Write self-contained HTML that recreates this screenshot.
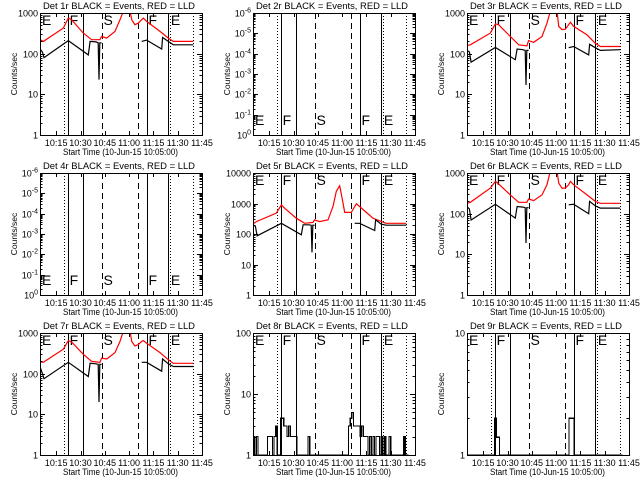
<!DOCTYPE html>
<html><head><meta charset="utf-8"><style>
html,body{margin:0;padding:0;background:#fff;}
svg{display:block;font-family:"Liberation Sans",sans-serif;}
</style></head><body>
<svg id="chart" width="640" height="480" viewBox="0 0 640 480" xmlns="http://www.w3.org/2000/svg" shape-rendering="crispEdges"></svg>
<script>
// ---- data ----
const xTickLabels = ["10:15","10:30","10:45","11:00","11:15","11:30","11:45"];
const xTickMinutes = [10,25,40,55,70,85,100];
const dottedMinutes = [14.8, 80.2, 94.6];
const solidMinutes = [17.5, 26.7, 66.2, 79.2];
const dashedMinutes = [38.5, 60.7];
const regionLetters = ["E","F","S","F","E"];
const regionMinutes = [1.2, 18.3, 39.2, 67.0, 80.8];

const blackT = [0,1.5,2.5,17.5,29.8,30.9,34.5,35.9,36.4,36.9,38,50,62.8,65.8,75.1,75.7,79.2,82.3,94.6];
const black1 = [130,110,80,210,93,200,195,185,23,185,185,null,200,215,130,250,200,165,165];
const black3 = [120,110,62,142,71,130,125,120,17,120,120,null,140,150,93,170,140,120,125];
const black5 = [200,180,87,225,94,200,200,195,25,195,195,null,225,225,130,290,210,195,195];
const black6 = [150,130,70,170,78,150,145,140,19,140,140,null,165,170,100,200,155,137,137];
const black7 = [150,100,75,190,85,180,175,170,20,170,170,null,190,190,115,230,175,150,150];

const redT = [0,2.1,14.4,17.5,19.5,26.7,31.9,37,38,41.2,46.3,49.4,51.4,53.5,55.6,56.6,58.6,60.7,62.8,63.8,65.8,74.1,79.2,82.3,94.6];
const red1 = [220,200,425,750,684,321,220,220,265,241,352,684,1100,3000,1100,684,515,566,684,750,620,352,241,200,200];
const red3 = [160,165,320,540,515,265,165,155,210,190,265,566,1100,3000,1100,470,390,400,515,590,470,290,180,150,150];
const red5 = [215,255,480,900,700,330,225,240,290,255,290,800,2500,3800,1000,510,510,510,800,980,800,330,255,225,225];
const red6 = [180,190,425,620,540,290,190,190,230,210,290,515,1100,3000,1100,566,425,425,515,620,515,290,200,180,180];
const red7 = [195,190,400,650,600,300,200,190,240,230,330,620,1100,3000,1100,620,480,520,620,650,560,330,220,180,180];

// per-minute step counts (minute 0..95)
const counts8 = [2,1,2,1,1,1,1,1,1,2,2,2,1,2,3,1,1,4,4,3,3,2,3,2,2,2,2,1,1,1,1,1,1,1,2,1,1,1,1,1,1,1,1,1,1,1,1,1,1,1,1,1,1,1,1,1,1,1,1,3,4,5,3,3,3,3,2,3,2,2,2,1,2,1,2,1,2,2,1,2,1,2,1,1,2,1,1,1,1,1,1,1,1,2,1,1];
const counts9 = [1,1,1,1,1,1,1,1,1,1,1,1,1,1,1,1,1,2,1.4,1.4,1,1,1,1,1,1,1,1,1,1,1,1,1,1,1,1,1,1,1,1,1,1,1,1,1,1,1,1,1,1,1,1,1,1,1,1,1,1,1,1,1,1,1,2,2,2,1,1,1,1,1,1,1,1,1,1,1,1,1,1,1,1,1,1,1,1,1,1,1,1,1,1,1,1,1,1];

const panels = [
 {det:"1r", lo:0, hi:3, black:black1, red:red1, lab:"top"},
 {det:"2r", lo:0, hi:6, exp:true, lab:"bottom"},
 {det:"3r", lo:0, hi:3, black:black3, red:red3, lab:"top"},
 {det:"4r", lo:0, hi:6, exp:true, lab:"bottom"},
 {det:"5r", lo:0, hi:4, black:black5, red:red5, lab:"top"},
 {det:"6r", lo:0, hi:3, black:black6, red:red6, lab:"top"},
 {det:"7r", lo:0, hi:3, black:black7, red:red7, lab:"top"},
 {det:"8r", lo:0, hi:2, step:counts8, lab:"top"},
 {det:"9r", lo:0, hi:1, step:counts9, lab:"top"}
];

const NS="http://www.w3.org/2000/svg";
const svg=document.getElementById('chart');
function mk(tag, attrs, parent){
  const e=document.createElementNS(NS,tag);
  for(const k in attrs) e.setAttribute(k,attrs[k]);
  (parent||svg).appendChild(e); return e;
}
const L=40,R=202,T=13,B=135;

panels.forEach((p,i)=>{
  const ox=Math.round((i%3)*213.33), oy=Math.floor(i/3)*160;
  const g=mk('g',{});
  
  
  const xs=m=>ox+L+m/100*(R-L);
  const ys=v=>oy+B-(Math.log10(v)-p.lo)/(p.hi-p.lo)*(B-T);
  const clipId='clip'+i;
  const cp=mk('clipPath',{id:clipId},g);
  mk('rect',{x:ox+L,y:oy+T,width:R-L,height:B-T},cp);

  // title
  const t=mk('text',{x:ox+43,y:oy+9,'font-size':'9.5',textLength:'152',lengthAdjust:'spacingAndGlyphs',fill:'#000'},g);
  t.textContent='Det '+p.det+' BLACK = Events, RED = LLD';
  
  

  // vertical lines
  const vl=(m,dash,name)=>{
    const x=Math.round(xs(m))+0.5;
    const l=mk('line',{x1:x,x2:x,y1:oy+T,y2:oy+B,stroke:'#000','stroke-width':1,'stroke-dasharray':dash},g);
    
    
  };
  dottedMinutes.forEach(m=>vl(m,'1,2','dotted-marker'));
  solidMinutes.forEach(m=>vl(m,'none','solid-marker'));
  dashedMinutes.forEach(m=>vl(m,'6,4','dashed-marker'));

  // region letters
  regionLetters.forEach((s,k)=>{
    const ly = p.lab==='top'? oy+25 : oy+125;
    const tx=mk('text',{x:xs(regionMinutes[k]),y:ly,'font-size':'14',fill:'#000'},g);
    tx.textContent=s;
    
    
  });

  // series
  const plotLine=(T_,V,color,name)=>{
    let d='',pen=false;
    for(let k=0;k<T_.length;k++){
      const v=V[k];
      if(v===null){pen=false;continue;}
      d+=(pen?'L':'M')+xs(T_[k]).toFixed(1)+' '+ys(v).toFixed(1)+' ';
      pen=true;
    }
    const pa=mk('path',{d:d,fill:'none',stroke:color,'stroke-width':1.2,'clip-path':'url(#'+clipId+')','shape-rendering':'auto'},g);
    
    
  };
  if(p.red) plotLine(redT,p.red,'#ff0000','lld-series');
  if(p.black) plotLine(blackT,p.black,'#000','events-series');
  if(p.step){
    let d='';
    p.step.forEach((v,m)=>{
      d+=(m===0?'M':'L')+xs(m).toFixed(1)+' '+ys(v).toFixed(1)+' L'+xs(m+1).toFixed(1)+' '+ys(v).toFixed(1)+' ';
    });
    const pa=mk('path',{d:d,fill:'none',stroke:'#000','stroke-width':1.2,'clip-path':'url(#'+clipId+')'},g);
    
    
  }

  // frame
  const fr=mk('rect',{x:ox+L+0.5,y:oy+T+0.5,width:R-L,height:B-T,fill:'none',stroke:'#000','stroke-width':1},g);
  
  

  // x ticks
  xTickMinutes.forEach((m,k)=>{
    const x=Math.round(xs(m))+0.5;
    mk('line',{x1:x,x2:x,y1:oy+B,y2:oy+B-4,stroke:'#000'},g);
    mk('line',{x1:x,x2:x,y1:oy+T,y2:oy+T+4,stroke:'#000'},g);
    const tl=mk('text',{x:xs(m),y:oy+146,'font-size':'9','text-anchor':'middle',fill:'#000'},g);
    tl.textContent=xTickLabels[k];
    
    
  });
  const xt=mk('text',{x:ox+63,y:oy+155,'font-size':'9.5',textLength:'115',lengthAdjust:'spacingAndGlyphs',fill:'#000'},g);
  xt.textContent='Start Time (10-Jun-15 10:05:00)';
  
  

  // y ticks
  for(let e=p.lo;e<=p.hi;e++){
    const y=Math.round(ys(Math.pow(10,e)))+0.5;
    mk('line',{x1:ox+L,x2:ox+L+5,y1:y,y2:y,stroke:'#000'},g);
    mk('line',{x1:ox+R,x2:ox+R-5,y1:y,y2:y,stroke:'#000'},g);
    const yl=mk('text',{x:ox+L-2,y:y+3,'font-size':'9','text-anchor':'end',fill:'#000'},g);
    if(p.exp){
      yl.textContent='10';
      const sp=mk('tspan',{dy:-4,'font-size':'7'},yl);
      sp.textContent=(e===p.lo?'0':'-'+e);
    } else {
      yl.textContent=String(Math.pow(10,e));
    }
    
    
    if(e<p.hi){
      for(let mm=2;mm<=9;mm++){
        const yy=Math.round(ys(mm*Math.pow(10,e)))+0.5;
        mk('line',{x1:ox+L,x2:ox+L+2.5,y1:yy,y2:yy,stroke:'#000'},g);
        mk('line',{x1:ox+R,x2:ox+R-2.5,y1:yy,y2:yy,stroke:'#000'},g);
      }
    }
  }
  const yt=mk('text',{x:0,y:0,'font-size':'8.5','text-anchor':'middle',fill:'#000',transform:'translate('+(ox+17)+','+(oy+74)+') rotate(-90)'},g);
  yt.textContent='Counts/sec';
  
  
});
</script>
</body></html>
